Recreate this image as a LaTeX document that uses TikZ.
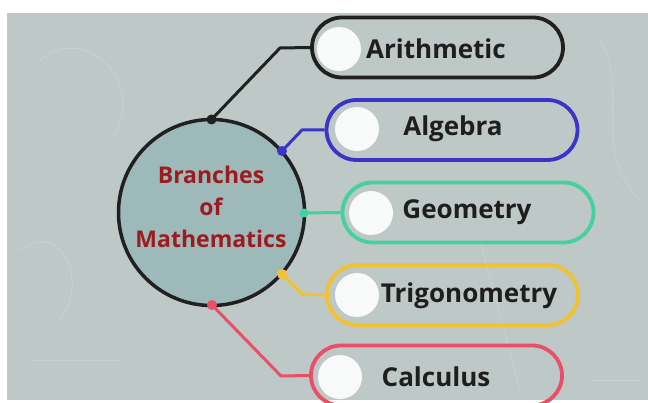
\documentclass[tikz,border=0pt]{standalone}
\usepackage{fontspec}
\setmainfont{Open Sans}
\definecolor{bg}{HTML}{BEC8C6}
\definecolor{hubfill}{HTML}{9DB9BA}
\definecolor{hubtext}{HTML}{9E1A1E}
\definecolor{cblack}{HTML}{202020}
\definecolor{cblue}{HTML}{3A35C8}
\definecolor{cteal}{HTML}{45D0A0}
\definecolor{cyellow}{HTML}{F2C230}
\definecolor{cpink}{HTML}{E8506A}
\definecolor{txt}{HTML}{1E1E1E}
\begin{document}
\begin{tikzpicture}[x=1pt,y=-1pt,
  pill/.style={draw=#1, line width=3.8pt, rounded corners=30pt, minimum width=251pt, minimum height=60pt, inner sep=0pt},
  knob/.style={circle, fill=white, fill opacity=0.9, minimum size=44pt, inner sep=0pt},
  label/.style={font=\fontsize{26}{28}\selectfont\bfseries, text=txt, inner sep=0pt},
  link/.style={draw=#1, line width=3pt, line join=round},
  dot/.style={circle, fill=#1, minimum size=10pt, inner sep=0pt}]
\useasboundingbox (0,0) rectangle (648,403);
\fill[white] (0,0) rectangle (648,403);
\fill[bg] (7,13) rectangle (648,400);
% faint chalk texture
\begin{scope}[white, opacity=0.18, line width=0.8pt]
\draw (40,60) .. controls (90,20) and (150,90) .. (110,140);
\draw (20,250) .. controls (60,220) and (90,280) .. (60,320);
\draw (600,40) .. controls (630,90) and (590,150) .. (640,200);
\draw (480,240) -- (520,390);
\draw (30,360) -- (120,360);
\draw (590,380) -- (640,380);
\end{scope}
% hub
\node[circle, draw=cblack, fill=hubfill, line width=3.5pt, minimum size=186pt, inner sep=0pt] (hub) at (211.5,212.5) {};
\node[font=\fontsize{23}{32}\selectfont\bfseries, text=hubtext, align=center, inner sep=0pt] (hubtxt) at (211,207) {Branches\\of\\Mathematics};
% pills
\node[pill=cblack] (ar) at (437.5,47.5) {};
\node[pill=cblue] (al) at (452,130) {};
\node[pill=cteal] (ge) at (468,212.5) {};
\node[pill=cyellow] (tr) at (452.5,295) {};
\node[pill=cpink] (ca) at (436.5,375.5) {};
% knobs
\node[knob] (k1) at (339,49) {};
\node[knob] (k2) at (357,129) {};
\node[knob] (k3) at (371,213) {};
\node[knob] (k4) at (357,295) {};
\node[knob] (k5) at (340,377) {};
% labels
\node[label] (t1) at (436,49) {Arithmetic};
\node[label] (t2) at (453,129) {Algebra};
\node[label] (t3) at (467,212) {Geometry};
\node[label] (t4) at (469,296) {Trigonometry};
\node[label] (t5) at (436,377) {Calculus};
% connector anchors
\coordinate (d1) at (211.5,119.5);
\coordinate (d2) at (282,151);
\coordinate (d3) at (304,213);
\coordinate (d4) at (282,274);
\coordinate (d5) at (212,305);
\coordinate (b1) at (280,48);
\coordinate (b2) at (302,130);
\coordinate (b4) at (302,294);
\coordinate (b5) at (281,376);
\draw[link=cblack] (d1) -- (b1) -- (ar.west);
\draw[link=cblue] (d2) -- (b2) -- (al.west);
\draw[link=cteal] (d3) -- (ge.west);
\draw[link=cyellow] (d4) -- (b4) -- (tr.west);
\draw[link=cpink] (d5) -- (b5) -- (ca.west);
\node[dot=cblack] at (d1) {};
\node[dot=cblue] at (d2) {};
\node[dot=cteal, minimum size=9pt] at (d3) {};
\node[dot=cyellow] at (d4) {};
\node[dot=cpink] at (d5) {};
\end{tikzpicture}
\end{document}
